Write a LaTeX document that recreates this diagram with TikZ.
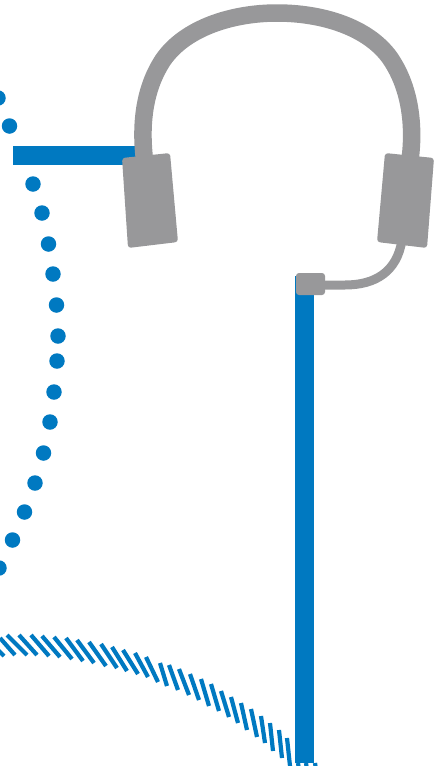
\documentclass[tikz,border=0pt]{standalone}
\definecolor{lineblue}{HTML}{0079C1}
\definecolor{headgray}{HTML}{98989A}
\tikzset{
  wire/.style={draw=lineblue,line width=19pt},
  dotmark/.style={circle,fill=lineblue,inner sep=0pt,minimum size=15.5pt},
  hatchmark/.style={draw=lineblue,line width=4.2pt},
  cord/.style={draw=headgray},
  earcup/.style={fill=headgray,rounded corners=3pt}
}
\begin{document}
\begin{tikzpicture}[x=1pt,y=-1pt]
\useasboundingbox (0,0) rectangle (438,766);
% blue wires
\coordinate (wa) at (13,155.5);
\coordinate (wb) at (140,155.5);
\coordinate (wc) at (304,276);
\coordinate (wd) at (304,763);
\draw[wire] (wa) -- (wb);
\draw[wire] (wc) -- (wd);
% dots
\foreach \x/\y/\n in {-2/98/a,9.5/126/b,33/184/c,42/213/d,48.5/244/e,53/274/f,56.5/305/g,58/336/h,57/361/i,54/392/j,50/422/k,43.5/453/l,35/483/m,24.5/512/n,12.5/540/o,-1/568/p}
  \node[dotmark] (dot\n) at (\x,\y) {};
% hatching
\foreach \xa/\ya/\xb/\yb in {
 -3/649/4/656, 0/638/15/655, 7/635/27/655, 19/635/37/655, 31/635/49/656, 42/636/60/657,
 54/637/72/659, 66/638/83/661, 77/640/94/663, 89/642/106/666, 101/644/117/668,
 112/647/127/671, 123/650/138/674, 135/653/148/677, 146/657/158/682,
 160/663/167/686, 169/665/178/690, 179/669/189/695, 190/674/199/700,
 201/679/209/706, 211/684/219/711, 221/691/229/717, 231/697/238/723,
 241/703/247/730, 251/709/257/737, 261/716/265/743, 270/723/273/751,
 279/730/282/758, 287/738/290/766,
 298/763/298.5/766, 306/763/306.5/766, 315/763/315.5/766}
  \draw[hatchmark] (\xa,\ya) -- (\xb,\yb);
% headset
\draw[cord,line width=17.5pt] (144.5,160) .. controls (141,130) and (142,92) .. (163,60)
  .. controls (185,28) and (232,13) .. (277,13)
  .. controls (322,13) and (368,27) .. (390,58)
  .. controls (412,90) and (414,130) .. (410,160);
\draw[cord,line width=9pt] (402,240) .. controls (397,272) and (375,285) .. (345,285) -- (318,285);
\fill[earcup] (122,158) -- (170,153) -- (178,242) -- (128,248) -- cycle;
\fill[earcup] (385,153) -- (434,158) -- (427,248) -- (377,242) -- cycle;
\fill[earcup] (296,273) rectangle (325,295);
\end{tikzpicture}
\end{document}
